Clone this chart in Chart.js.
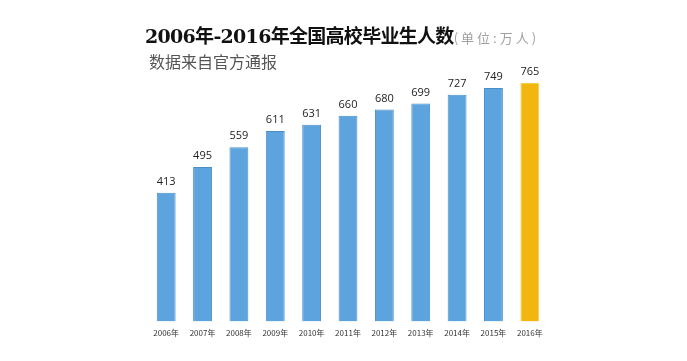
<!DOCTYPE html>
<html>
<head>
<meta charset="utf-8">
<script src="https://cdn.jsdelivr.net/npm/chart.js@4"></script>
<style>
  body { margin: 0; background: #fff; }
  #wrap { position: relative; width: 687px; height: 361px; }
  #title { position: absolute; left: 145px; top: 21px; font: bold 19px "DejaVu Serif", "Noto Sans CJK SC", serif; color: #111; white-space: nowrap; letter-spacing: -0.7px; }
  #title span { font: 13px "Noto Sans CJK SC", sans-serif; color: #a0a0a0; letter-spacing: 3px; }
  #sub { position: absolute; left: 149px; top: 49px; font: 16px "Noto Sans CJK SC", sans-serif; color: #555; }
  canvas { position: absolute; left: 0; top: 0; }
</style>
</head>
<body>
<div id="wrap">
  <canvas id="chart" width="687" height="361"></canvas>
  <div id="title">2006年-2016年全国高校毕业生人数<span>(单位:万人)</span></div>
  <div id="sub">数据来自官方通报</div>
</div>
<script>
// data
const years = ["2006年", "2007年", "2008年", "2009年", "2010年", "2011年", "2012年", "2013年", "2014年", "2015年", "2016年"];
const graduates = [413, 495, 559, 611, 631, 660, 680, 699, 727, 749, 765];
const barColors = ["#5da3dd", "#5da3dd", "#5da3dd", "#5da3dd", "#5da3dd", "#5da3dd", "#5da3dd", "#5da3dd", "#5da3dd", "#5da3dd", "#f2b70f"];
const borderColors = ["#4a8ec8", "#4a8ec8", "#4a8ec8", "#4a8ec8", "#4a8ec8", "#4a8ec8", "#4a8ec8", "#4a8ec8", "#4a8ec8", "#4a8ec8", "#f6cf4a"];

// numbers on top of each bar
const valueLabels = {
    id: "valueLabels",
    afterDatasetsDraw(chart) {
        const ctx = chart.ctx;
        const meta = chart.getDatasetMeta(0);
        ctx.save();
        ctx.font = "11px 'Open Sans', sans-serif";
        ctx.fillStyle = "#222";
        ctx.textAlign = "center";
        ctx.textBaseline = "middle";
        meta.data.forEach((bar, i) => {
            ctx.fillText(graduates[i], bar.x, bar.y - 11);
        });
        ctx.restore();
    }
};

new Chart(document.getElementById("chart"), {
    type: "bar",
    data: {
        labels: years,
        datasets: [{
            data: graduates,
            backgroundColor: barColors,
            borderColor: borderColors,
            borderWidth: 1,
            barPercentage: 0.72,
            categoryPercentage: 0.72
        }]
    },
    options: {
        responsive: false,
        animation: false,
        layout: { padding: { left: 148, right: 139, top: 72, bottom: 16 } },
        plugins: { legend: { display: false }, tooltip: { enabled: false } },
        scales: {
            x: {
                grid: { display: false, drawTicks: false },
                border: { display: false },
                ticks: { padding: 7, color: "#333", font: { size: 8, family: "'Noto Sans CJK SC', sans-serif" } }
            },
            y: { display: false, min: 0, max: 800 }
        }
    },
    plugins: [valueLabels]
});
</script>
</body>
</html>
